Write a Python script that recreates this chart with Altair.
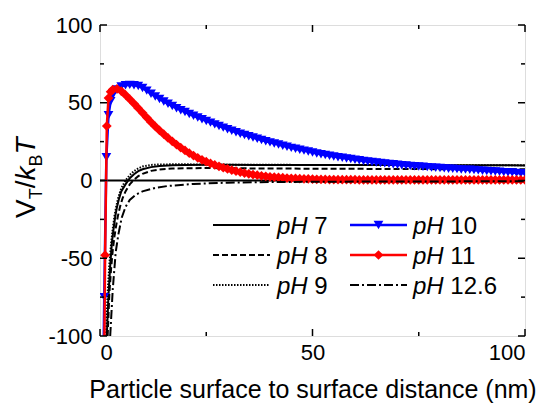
import altair as alt
import pandas as pd

FONT = "Liberation Sans"

# ---------------- data ----------------
x_ph7 = [1.6, 2.0, 2.4, 2.8, 3.2, 3.6, 4.0, 4.5, 5, 6, 7, 8, 9, 10, 12, 14, 17, 20, 25, 30, 40, 50, 60, 70, 80, 90, 100]
y_ph7 = [-100, -74, -55, -40, -31, -23, -17, -11.5, -7, -2.5, 1.5, 4, 6, 7.2, 8.6, 9.3, 9.8, 10, 10.1, 10.1, 10, 10, 9.9, 9.9, 9.8, 9.8, 9.7]

x_ph8 = [1.8, 2.2, 2.6, 3.0, 3.4, 3.8, 4.2, 4.7, 5.3, 6, 7, 8, 9, 10, 12, 14, 17, 20, 25, 30, 40, 50, 60, 70, 80, 90, 100]
y_ph8 = [-100, -73, -57, -45, -36, -29, -23, -17, -11.5, -7, -2.5, 0.5, 2.8, 4.3, 6.2, 7.1, 7.7, 7.9, 8, 7.9, 7.7, 7.6, 7.5, 7.4, 7.3, 7.3, 7.2]

x_ph9 = [1.4, 1.8, 2.2, 2.6, 3.0, 3.4, 3.8, 4.3, 5, 6, 7, 8, 9, 10, 12, 14, 17, 20, 25, 30, 40, 50, 60, 70, 80, 90, 100]
y_ph9 = [-100, -72, -54, -41, -31, -23, -17, -11, -5, 0, 3.5, 6, 7.8, 9, 10, 10.3, 10.4, 10.4, 10.3, 10.2, 10.1, 10, 10, 9.9, 9.9, 9.8, 9.8]

x_ph126 = [2.4, 3.0, 3.7, 4.3, 5.1, 6, 7, 8.5, 10, 13, 16, 22, 30, 40, 50, 60, 70, 80, 90, 100]
y_ph126 = [-100, -70, -46, -35, -24, -17, -12.5, -9, -7, -4.8, -3.5, -2.2, -1.4, -1.0, -0.8, -0.7, -0.6, -0.6, -0.5, -0.5]

x_ph10 = [0.8, 1.0, 1.5, 2.0, 2.5] + list(range(3, 101))
y_ph10 = [-120, -75, 15, 42, 51,
          55, 58.5, 60.5, 61.3, 61.5, 61.3, 60.8, 59.5, 57.8, 55.8,
          54, 52.4, 50.8, 49.3, 47.9, 46.5, 45.2, 44, 42.8, 41.6,
          40.5, 39.4, 38.3, 37.2, 36.1, 35, 34, 33, 32, 31,
          30.1, 29.2, 28.4, 27.6, 26.8, 26, 25.2, 24.5, 23.8, 23.1,
          22.4, 21.7, 21, 20.4, 19.8, 19.2, 18.6, 18, 17.4, 16.9,
          16.4, 15.9, 15.4, 15, 14.6, 14.2, 13.8, 13.4, 13, 12.6,
          12.2, 11.9, 11.6, 11.3, 11, 10.7, 10.4, 10.1, 9.8, 9.6,
          9.4, 9.2, 9, 8.8, 8.6, 8.4, 8.2, 8, 7.8, 7.6,
          7.5, 7.3, 7.1, 7, 6.9, 6.7, 6.5, 6.3, 6.1, 6,
          5.8, 5.6, 5.4, 5.3, 5.1, 4.9, 4.7, 4.6]

x_ph11 = [0.9, 1.2, 1.6, 2.0, 2.5] + list(range(3, 101))
y_ph11 = [-150, -48, 35, 53, 57,
          58.5, 59, 57.5, 55, 52.3, 49.5, 46.5, 43.5, 40.5, 37.5,
          34.8, 32.2, 29.8, 27.4, 25.2, 23.1, 21.1, 19.3, 17.6, 16,
          14.6, 13.3, 12.1, 11, 10, 9.1, 8.2, 7.4, 6.7, 6,
          5.4, 4.8, 4.3, 3.8, 3.4, 3, 2.7, 2.4, 2.2, 2.0,
          1.8, 1.6, 1.4, 1.3, 1.2, 1.1, 1.0, 0.9, 0.8, 0.7,
          0.7, 0.6, 0.6, 0.5, 0.5, 0.5, 0.5, 0.5, 0.4, 0.4,
          0.4, 0.4, 0.4, 0.4, 0.4, 0.4, 0.4, 0.4, 0.4, 0.4,
          0.4, 0.4, 0.4, 0.4, 0.4, 0.4, 0.4, 0.4, 0.4, 0.4,
          0.4, 0.4, 0.4, 0.4, 0.4, 0.4, 0.4, 0.4, 0.4, 0.4,
          0.4, 0.4, 0.4, 0.4, 0.4, 0.4, 0.4, 0.4]

x_major = [0, 50, 100]
x_minor = [25, 75]
y_major = [-100, -50, 0, 50, 100]
y_minor = [-75, -25, 25, 75]
zero_level = [0]

legend_labels = ["7", "8", "9", "10", "11", "12.6"]

# ---------------- layout ----------------
W, H = 425, 311
LEFT, TOP = 100, 25
XS = alt.Scale(domain=[0, 100], nice=False, zero=False)
YS = alt.Scale(domain=[-100, 100], nice=False, zero=False)

x_axis = alt.Axis(values=x_major, domain=False, ticks=False, grid=False,
                  labelFontSize=22, labelPadding=6, labelColor="black",
                  labelExpr="datum.value + ''",
                  title="Particle surface to surface distance (nm)",
                  titleFontSize=25, titleFontWeight="normal", titlePadding=14,
                  titleColor="black")
y_axis = alt.Axis(values=y_major, domain=False, ticks=False, grid=False,
                  labelFontSize=22, labelPadding=8, labelColor="black",
                  labelExpr="datum.value + ''")


def curve(xs, ys, dash=None, color="black", width=2.0):
    df = pd.DataFrame({"x": xs, "y": ys})
    kw = dict(color=color, strokeWidth=width, clip=True)
    if dash:
        kw["strokeDash"] = dash
    return alt.Chart(df).mark_line(**kw).encode(
        x=alt.X("x:Q", scale=XS, axis=x_axis),
        y=alt.Y("y:Q", scale=YS, axis=y_axis, title=None),
    )


def points(xs, ys, shape, color, size):
    df = pd.DataFrame({"x": xs, "y": ys})
    return alt.Chart(df).mark_point(shape=shape, filled=True, color=color,
                                    size=size, opacity=1, clip=True).encode(
        x=alt.X("x:Q", scale=XS),
        y=alt.Y("y:Q", scale=YS),
    )


DASHED = [6, 3]
DOTTED = [1.5, 1.5]
DASHDOT = [9, 3, 2, 3]
MSIZE = 95

layers = []
layers.append(alt.Chart(pd.DataFrame({"y": zero_level})).mark_rule(color="black", strokeWidth=2).encode(
    y=alt.Y("y:Q", scale=YS)))
layers.append(curve(x_ph7, y_ph7))
layers.append(curve(x_ph8, y_ph8, DASHED))
layers.append(curve(x_ph9, y_ph9, DOTTED))
layers.append(curve(x_ph10, y_ph10, color="#0000FF", width=2.5))
layers.append(points(x_ph10, y_ph10, "triangle-down", "#0000FF", MSIZE))
layers.append(curve(x_ph11, y_ph11, color="#FF0000", width=2.5))
layers.append(points(x_ph11, y_ph11, "diamond", "#FF0000", MSIZE))
layers.append(curve(x_ph126, y_ph126, DASHDOT))

# inward ticks on all four sides
MAJ, MIN = 7, 4
for vals, ln in ((x_major, MAJ), (x_minor, MIN)):
    d = pd.DataFrame({"x": vals})
    layers.append(alt.Chart(d).mark_rule(color="black", strokeWidth=1.5).encode(
        x=alt.X("x:Q", scale=XS), y=alt.value(H), y2=alt.value(H - ln)))
    layers.append(alt.Chart(d).mark_rule(color="black", strokeWidth=1.5).encode(
        x=alt.X("x:Q", scale=XS), y=alt.value(0), y2=alt.value(ln)))
for vals, ln in ((y_major, MAJ), (y_minor, MIN)):
    d = pd.DataFrame({"y": vals})
    layers.append(alt.Chart(d).mark_rule(color="black", strokeWidth=1.5).encode(
        y=alt.Y("y:Q", scale=YS), x=alt.value(0), x2=alt.value(ln)))
    layers.append(alt.Chart(d).mark_rule(color="black", strokeWidth=1.5).encode(
        y=alt.Y("y:Q", scale=YS), x=alt.value(W), x2=alt.value(W - ln)))

one = pd.DataFrame({"a": [0]})

# ---------------- manual legend ----------------
LF = 24
rows = [225 - TOP, 255 - TOP, 285 - TOP]
cols = [(213 - LEFT, 270 - LEFT, 277 - LEFT), (350 - LEFT, 407 - LEFT, 413 - LEFT)]
styles = [
    dict(color="black", dash=None, shape=None),
    dict(color="black", dash=DASHED, shape=None),
    dict(color="black", dash=DOTTED, shape=None),
    dict(color="#0000FF", dash=None, shape="triangle-down"),
    dict(color="#FF0000", dash=None, shape="diamond"),
    dict(color="black", dash=DASHDOT, shape=None),
]
PH_W = (0.556 + 0.722 + 0.278) * LF
for i, lab in enumerate(legend_labels):
    c, r = divmod(i, 3)
    x0, x1, xt = cols[c]
    yc = rows[r]
    st = styles[i]
    kw = dict(color=st["color"], strokeWidth=2.5 if st["shape"] else 2)
    if st["dash"]:
        kw["strokeDash"] = st["dash"]
    layers.append(alt.Chart(one).mark_rule(**kw).encode(
        x=alt.value(x0), x2=alt.value(x1), y=alt.value(yc)))
    if st["shape"]:
        layers.append(alt.Chart(one).mark_point(shape=st["shape"], filled=True, opacity=1,
                                                color=st["color"], size=MSIZE).encode(
            x=alt.value((x0 + x1) / 2), y=alt.value(yc)))
    base = yc + 0.36 * LF
    layers.append(alt.Chart(one).mark_text(text="pH", fontStyle="italic", fontSize=LF, font=FONT,
                                           align="left", baseline="alphabetic", color="black").encode(
        x=alt.value(xt), y=alt.value(base)))
    layers.append(alt.Chart(one).mark_text(text=lab, fontSize=LF, font=FONT,
                                           align="left", baseline="alphabetic", color="black").encode(
        x=alt.value(xt + PH_W), y=alt.value(base)))

# ---------------- y-axis title with subscripts ----------------
TF, SF = 28, 18
widths = {"V": 0.667, "T": 0.611, "/": 0.278, "k": 0.5, "B": 0.667}
pieces = [("V", TF, "normal", 0), ("T", SF, "normal", 7), ("/", TF, "normal", 0),
          ("k", TF, "italic", 0), ("B", SF, "normal", 7), ("T", TF, "italic", 0)]
ypos = 218 - TOP
bx = 35 - LEFT
for ch, fs, style, sub in pieces:
    layers.append(alt.Chart(one).mark_text(text=ch, fontSize=fs, fontStyle=style, font=FONT,
                                           angle=270, align="left", baseline="alphabetic",
                                           color="black").encode(
        x=alt.value(bx + sub), y=alt.value(ypos)))
    ypos -= widths[ch] * fs

chart = alt.layer(*layers).properties(
    width=W, height=H,
    autosize=alt.AutoSizeParams(type="none"),
    padding={"left": LEFT, "top": TOP, "right": 547 - LEFT - W, "bottom": 406 - TOP - H},
).configure_view(stroke="black", strokeWidth=2).configure_axis(
    labelFont=FONT, titleFont=FONT
).configure(background="white")

chart.save("out.html", embed_options={"renderer": "svg", "actions": False})
